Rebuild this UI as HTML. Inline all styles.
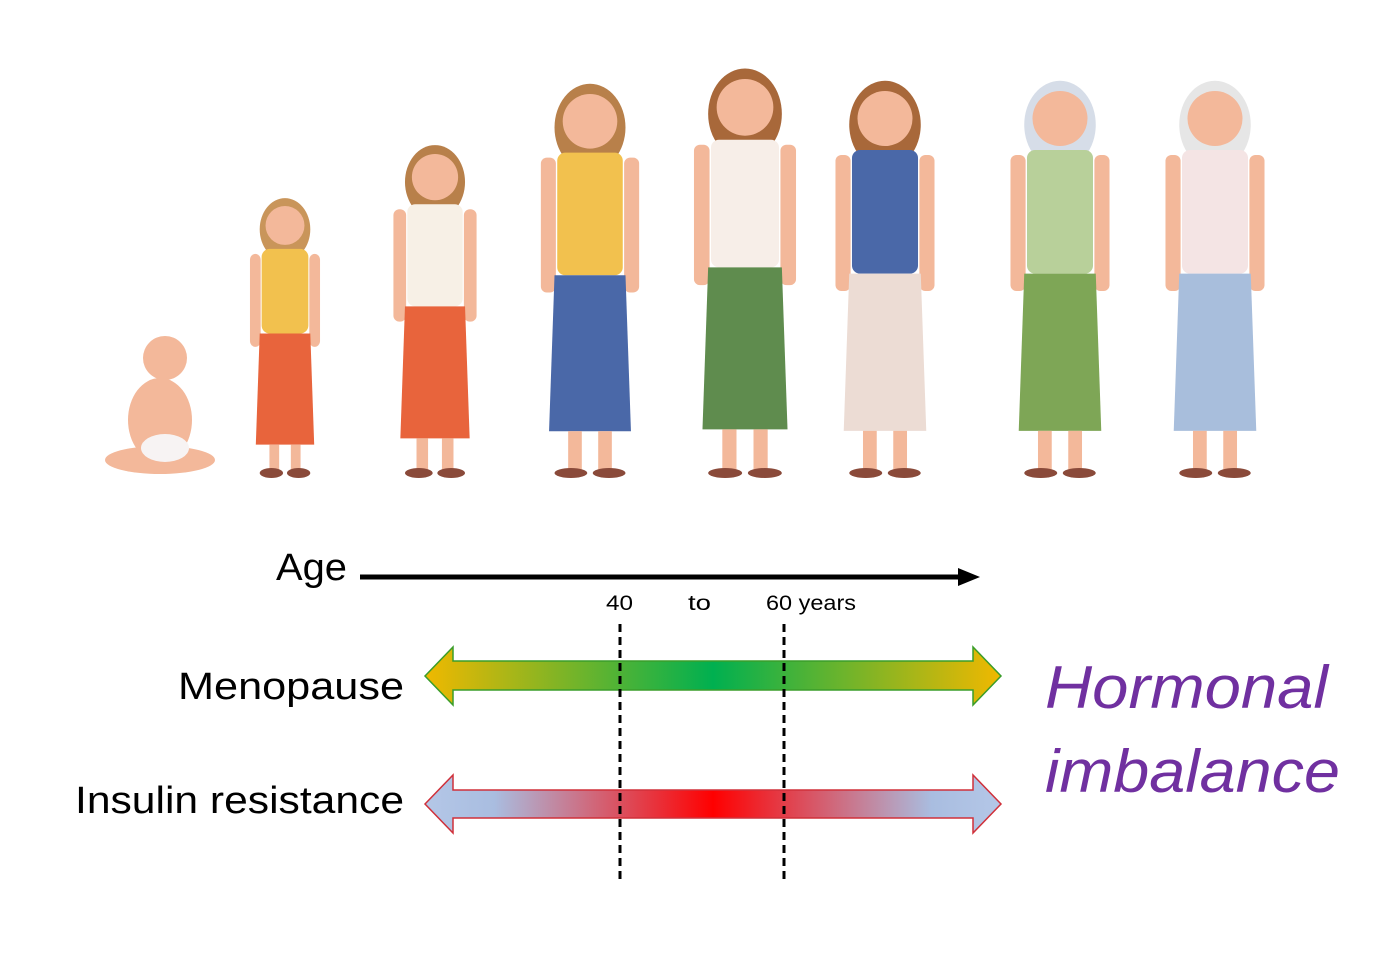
<!DOCTYPE html>
<html><head><meta charset="utf-8"><style>
html,body{margin:0;padding:0;background:#fff;}
svg{display:block;}
text{font-family:"Liberation Sans",sans-serif;}
</style></head><body>
<svg id="s" width="1400" height="957" viewBox="0 0 1400 957">
<defs>
<linearGradient id="gMen" x1="425" x2="1001" gradientUnits="userSpaceOnUse">
<stop offset="0" stop-color="#f0b800"/><stop offset="0.5" stop-color="#00b050"/><stop offset="1" stop-color="#f0b800"/>
</linearGradient>
<linearGradient id="gIns" x1="425" x2="1001" gradientUnits="userSpaceOnUse">
<stop offset="0" stop-color="#b4c7e7"/><stop offset="0.12" stop-color="#a9bde0"/><stop offset="0.5" stop-color="#ff0000"/><stop offset="0.88" stop-color="#a9bde0"/><stop offset="1" stop-color="#b4c7e7"/>
</linearGradient>
</defs>
<g id="people"></g>

<text x="276" y="580" font-size="38" textLength="71" lengthAdjust="spacingAndGlyphs">Age</text>
<line x1="360" y1="577" x2="962" y2="577" stroke="#000" stroke-width="5"/>
<polygon points="958,568 980,577 958,586" fill="#000"/>
<text x="606" y="610" font-size="21" textLength="27" lengthAdjust="spacingAndGlyphs">40</text>
<text x="688" y="610" font-size="21" textLength="23" lengthAdjust="spacingAndGlyphs">to</text>
<text x="766" y="610" font-size="21" textLength="90" lengthAdjust="spacingAndGlyphs">60 years</text>

<text x="178" y="699" font-size="38" textLength="226" lengthAdjust="spacingAndGlyphs">Menopause</text>
<polygon points="425,676 453,647 453,661 973,661 973,647 1001,676 973,705 973,690 453,690 453,705" fill="url(#gMen)" stroke="#3a9d2a" stroke-width="1.5"/>
<text x="75" y="813" font-size="38" textLength="329" lengthAdjust="spacingAndGlyphs">Insulin resistance</text>
<polygon points="425,804 453,775 453,790 973,790 973,775 1001,804 973,833 973,818 453,818 453,833" fill="url(#gIns)" stroke="#d0303a" stroke-width="1.5"/>

<line x1="620" y1="624" x2="620" y2="882" stroke="#000" stroke-width="3" stroke-dasharray="8,5"/>
<line x1="784" y1="624" x2="784" y2="882" stroke="#000" stroke-width="3" stroke-dasharray="8,5"/>

<text x="1045" y="708" font-size="60" font-style="italic" fill="#7030a0" textLength="283" lengthAdjust="spacingAndGlyphs">Hormonal</text>
<text x="1045" y="792" font-size="60" font-style="italic" fill="#7030a0" textLength="295" lengthAdjust="spacingAndGlyphs">imbalance</text>
</svg>
<script>
const ns="http://www.w3.org/2000/svg";
const g=document.getElementById('people');
const figs=[
 [285,200,478,'#c9955a','#f2c14e','#e8643c','girl-toddler'],
 [435,148,478,'#b8804a','#f7f0e6','#e8643c','girl-school'],
 [590,88,478,'#b8804a','#f2c14e','#4a68a8','teen-girl'],
 [745,73,478,'#a8683a','#f7eee8','#5f8c4e','young-woman'],
 [885,85,478,'#a8683a','#4a68a8','#ecdcd4','mother'],
 [1060,85,478,'#d6dde8','#b8d09a','#7ea656','older-woman'],
 [1215,85,478,'#e6e6e6','#f4e4e4','#a8bedc','elderly-woman']];
const skin='#f3b89a';
figs.forEach(f=>{
 const [cx,t,b,hair,top,bot,name]=f;const H=b-t;const hr=H*0.07;
 const grp=document.createElementNS(ns,'g');g.appendChild(grp);
 
 
 function s(tag,a){const e=document.createElementNS(ns,tag);for(const k in a)e.setAttribute(k,a[k]);grp.appendChild(e);return e;}
 const hy=t+hr+4;
 s('ellipse',{cx:cx,cy:hy+hr*0.3,rx:hr*1.3,ry:hr*1.6,fill:hair});
 s('circle',{cx:cx,cy:hy+2,r:hr,fill:skin});
 const tt=hy+hr+6, tb=t+H*0.48;
 s('rect',{x:cx-hr*1.2,y:tt,width:hr*2.4,height:tb-tt,rx:8,fill:top});
 s('rect',{x:cx-hr*1.8,y:tt+5,width:hr*0.55,height:(tb-tt)*1.1,rx:6,fill:skin});
 s('rect',{x:cx+hr*1.25,y:tt+5,width:hr*0.55,height:(tb-tt)*1.1,rx:6,fill:skin});
 s('path',{d:`M${cx-hr*1.3},${tb} L${cx+hr*1.3},${tb} L${cx+hr*1.5},${b-H*0.12} L${cx-hr*1.5},${b-H*0.12}Z`,fill:bot});
 s('rect',{x:cx-hr*0.8,y:b-H*0.12,width:hr*0.5,height:H*0.1,fill:skin});
 s('rect',{x:cx+hr*0.3,y:b-H*0.12,width:hr*0.5,height:H*0.1,fill:skin});
 s('ellipse',{cx:cx-hr*0.7,cy:b-5,rx:hr*0.6,ry:5,fill:'#8a4a3a'});
 s('ellipse',{cx:cx+hr*0.7,cy:b-5,rx:hr*0.6,ry:5,fill:'#8a4a3a'});
});
const bg=document.createElementNS(ns,'g');g.appendChild(bg);


[['circle',{cx:165,cy:358,r:22,fill:skin}],['ellipse',{cx:160,cy:420,rx:32,ry:42,fill:skin}],
 ['ellipse',{cx:160,cy:460,rx:55,ry:14,fill:skin}],['ellipse',{cx:165,cy:448,rx:24,ry:14,fill:'#f7f3f3'}]].forEach(([t,a])=>{const e=document.createElementNS(ns,t);for(const k in a)e.setAttribute(k,a[k]);bg.appendChild(e);});
</script>
</body></html>
